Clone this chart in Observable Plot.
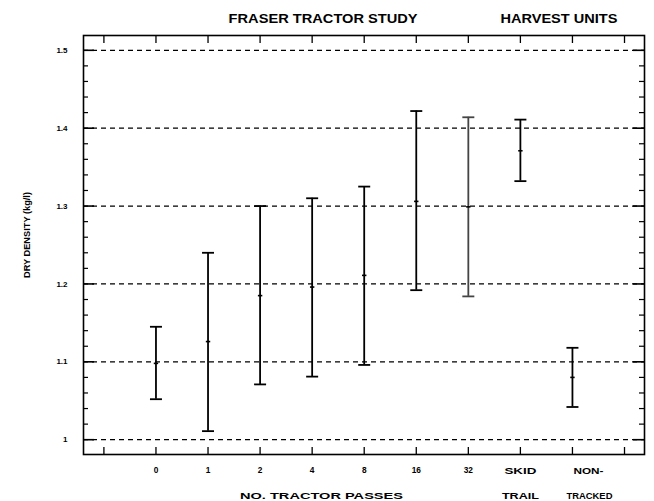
<!DOCTYPE html>
<html><head><meta charset="utf-8">
<script src="https://cdn.jsdelivr.net/npm/d3@7"></script>
<script src="https://cdn.jsdelivr.net/npm/@observablehq/plot@0.6"></script>
<style>
body{margin:0;background:#fff;}
#chart svg{font-family:"Liberation Sans",Arial,Helvetica,sans-serif;}
</style>
</head><body><div id="chart"></div>
<script>
// ---- data ----
const categories = ["0","1","2","4","8","16","32","SKID","NON-"];
const secondLine = ["","","","","","","","TRAIL","TRACKED"];
const slotOf     = [1,2,3,4,5,6,7,8,9];              // tick slot of each category
const means = [1.098,1.126,1.185,1.196,1.211,1.306,1.299,1.371,1.080];
const lows  = [1.052,1.011,1.071,1.081,1.096,1.192,1.184,1.332,1.042];
const highs = [1.145,1.240,1.300,1.310,1.325,1.422,1.414,1.411,1.118];
const slots = [0,1,2,3,4,5,6,7,8,9,10];
const yMajor = [1.0,1.1,1.2,1.3,1.4,1.5];
const yTickLabels = ["1","1.1","1.2","1.3","1.4","1.5"];
const yMinor = [1.02,1.04,1.06,1.08,1.12,1.14,1.16,1.18,1.22,1.24,1.26,1.28,1.32,1.34,1.36,1.38,1.42,1.44,1.46,1.48];
const title1 = "FRASER TRACTOR STUDY";
const title2 = "HARVEST UNITS";
const xTitle = "NO. TRACTOR PASSES";
const yTitle = "DRY DENSITY (kg/l)";

const rows = categories.map((c,i)=>({label:c, line2:secondLine[i], pos:slotOf[i], mean:means[i], lo:lows[i], hi:highs[i]}));
const yLabelRows = yMajor.map((v,i)=>({v, t:yTickLabels[i]}));

// rendered widths of the wide, stretched lettering in the reference (layout only)
const stretch = {[title1]:189, [title2]:117, [xTitle]:163, "SKID":32, "TRAIL":37, "NON-":30, "TRACKED":46, [yTitle]:86};

const hbar = {draw(ctx, size){ const r = Math.sqrt(size/Math.PI); ctx.moveTo(-r,0); ctx.lineTo(r,0); }};

const W = 654, H = 501, mL = 83, mR = 10, mT = 35, mB = 47;
const pw = W - mL - mR, ph = H - mT - mB;
const font = {fontWeight:"bold", fill:"#000", lineAnchor:"middle"};
const ink = d => d.label==="32" ? "#444" : "#000";

const chart = Plot.plot({
  width: W, height: H,
  marginLeft: mL, marginRight: mR, marginTop: mT, marginBottom: mB,
  x: {domain:[-0.392, 10.384], axis:null},
  y: {domain:[0.981, 1.519], axis:null},
  style: {background:"#fff", overflow:"visible", fontFamily:"'Liberation Sans',Arial,sans-serif"},
  marks: [
    Plot.ruleY(yMajor, {y:d=>d, stroke:"#000", strokeWidth:1.3, strokeDasharray:"5,4"}),
    Plot.tickY(yMinor, {y:d=>d, insetRight: pw-5, stroke:"#000", strokeWidth:1.2}),
    Plot.tickY(yMinor, {y:d=>d, insetLeft: pw-5, stroke:"#000", strokeWidth:1.2}),
    Plot.tickY(yMajor, {y:d=>d, insetRight: pw-11, stroke:"#000", strokeWidth:1.6}),
    Plot.tickY(yMajor, {y:d=>d, insetLeft: pw-11, stroke:"#000", strokeWidth:1.6}),
    Plot.tickX(slots, {x:d=>d, insetBottom: ph-8, stroke:"#000", strokeWidth:1.3}),
    Plot.tickX(slots, {x:d=>d, insetTop: ph-7, stroke:"#000", strokeWidth:1.3}),
    Plot.frame({stroke:"#000", strokeWidth:1.6}),
    Plot.ruleX(rows, {x:"pos", y1:"lo", y2:"hi", stroke:ink, strokeWidth:1.8}),
    Plot.dot(rows, {x:"pos", y:"hi", symbol:hbar, r:6, fill:"none", stroke:ink, strokeWidth:1.8}),
    Plot.dot(rows, {x:"pos", y:"lo", symbol:hbar, r:6, fill:"none", stroke:ink, strokeWidth:1.8}),
    Plot.dot(rows, {x:"pos", y:"mean", symbol:hbar, r:2.2, fill:"none", stroke:"#000", strokeWidth:1.6}),
    Plot.text(yLabelRows, {y:"v", text:"t", frameAnchor:"left", dx:-16, textAnchor:"end", fontSize:8, ...font}),
    Plot.text([yTitle], {frameAnchor:"left", textAnchor:"middle", rotate:-90, dx:-56, dy:-10, fontSize:9, ...font}),
    Plot.text(rows.filter(d=>d.label!=="NON-"), {x:"pos", text:"label", frameAnchor:"bottom", textAnchor:"middle", dy:16.3, fontSize:d=>d.line2?9.5:8.3, ...font}),
    Plot.text(rows.filter(d=>d.label==="NON-"), {x:"pos", text:"label", frameAnchor:"bottom", textAnchor:"middle", dy:16.3, dx:16, fontSize:9.5, ...font}),
    Plot.text(rows.filter(d=>d.line2 && d.label!=="NON-"), {x:"pos", text:"line2", frameAnchor:"bottom", textAnchor:"middle", dy:41.8, fontSize:9.5, ...font}),
    Plot.text(rows.filter(d=>d.label==="NON-"), {x:"pos", text:"line2", frameAnchor:"bottom", textAnchor:"middle", dy:41.8, dx:17, fontSize:9.5, ...font}),
    Plot.text([xTitle], {x:[4.18], frameAnchor:"bottom", textAnchor:"middle", dy:41.8, fontSize:9.5, ...font}),
    Plot.text([title1], {x:[4.21], frameAnchor:"top", textAnchor:"middle", dy:-16.7, fontSize:12, ...font}),
    Plot.text([title2], {x:[8.74], frameAnchor:"top", textAnchor:"middle", dy:-16.7, fontSize:12, ...font})
  ]
});
d3.select(chart).selectAll("text").each(function(){
  const t = this.textContent;
  if (stretch[t]) { this.setAttribute("textLength", stretch[t]); this.setAttribute("lengthAdjust", "spacingAndGlyphs"); }
});
document.getElementById("chart").appendChild(chart);
</script></body></html>
